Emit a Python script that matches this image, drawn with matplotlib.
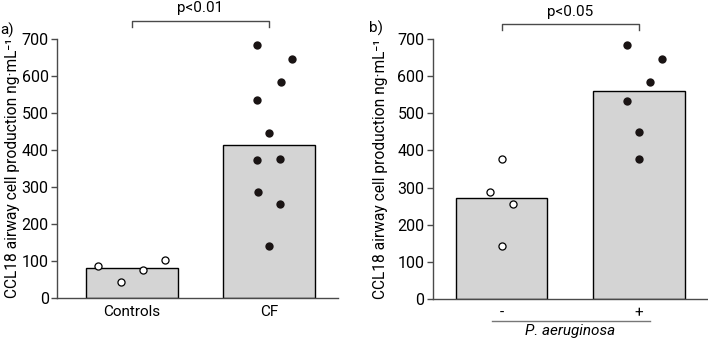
import matplotlib
matplotlib.use("Agg")
import matplotlib.pyplot as plt
import numpy as np

plt.rcParams['font.family'] = ['Roboto', 'DejaVu Sans']

# ---- data ----
cats_a = ["Controls", "CF"]
bars_a = [82, 413]
ctrl_pts = [87, 44, 75, 104]
cf_pts = [684, 645, 585, 534, 447, 372, 375, 286, 254, 140]

cats_b = ["-", "+"]
bars_b = [271, 561]
neg_pts = [376, 289, 255, 144]
pos_pts = [683, 647, 585, 533, 449, 378]

yticks = [0, 100, 200, 300, 400, 500, 600, 700]
ylabel = "CCL18 airway cell production ng\u00b7mL\u207b\u00b9"

# jitter (layout only)
jit_ctrl = [-0.25, -0.08, 0.08, 0.245]
jit_cf = [-0.089, 0.169, 0.086, -0.084, 0, -0.084, 0.084, -0.079, 0.084, 0]
jit_neg = [0, -0.086, 0.081, 0]
jit_pos = [-0.085, 0.165, 0.082, -0.09, 0, 0]

W, H = 708, 339
fig = plt.figure(figsize=(W / 100, H / 100), dpi=100)

spine_col = "#4a4a4a"
bar_col = "#d4d4d4"
dot_col = "#1a1414"


def style(ax, lab_x):
    ax.set_ylim(0, 700)
    ax.set_yticks(yticks)
    for s in ["top", "right"]:
        ax.spines[s].set_visible(False)
    for s in ["left", "bottom"]:
        ax.spines[s].set_color(spine_col)
        ax.spines[s].set_linewidth(1.0)
    ax.tick_params(axis="y", length=4, width=1.0, color=spine_col, labelsize=11.5, pad=2)
    ax.tick_params(axis="x", length=0, labelsize=11, pad=5)
    ax.set_ylabel(ylabel, fontsize=11.2, family=['Roboto', 'DejaVu Sans'])
    ax.yaxis.set_label_coords(lab_x, 0.5)
    ax.set_facecolor("none")


# Panel a
axa = fig.add_axes([57 / W, 41 / H, 281 / W, 259 / H])
xa = np.arange(len(cats_a))
axa.bar(xa, bars_a, width=0.67, color=bar_col, edgecolor="black", linewidth=1.0, zorder=2)
axa.scatter(xa[0] + np.array(jit_ctrl), ctrl_pts, s=26, facecolor="white", edgecolor="black",
            linewidth=0.9, zorder=3, clip_on=False)
axa.scatter(xa[1] + np.array(jit_cf), cf_pts, s=36, color=dot_col, linewidth=0, zorder=3, clip_on=False)
axa.set_xlim(-0.546, 1.505)
axa.set_xticks(xa)
axa.set_xticklabels(cats_a)
style(axa, (20 - 57) / 281)
axa.plot([0, 0, 1, 1], [732, 749, 749, 732], color=spine_col, lw=1.0, clip_on=False)
axa.text(0.5, 784, "p<0.01", ha="center", va="center", fontsize=11)
fig.text(0 / W, 1 - 30 / H, "a)", fontsize=11, va="center", ha="left")

# Panel b
axb = fig.add_axes([432.7 / W, 40 / H, 275.3 / W, 260 / H])
xb = np.arange(len(cats_b))
axb.bar(xb, bars_b, width=0.666, color=bar_col, edgecolor="black", linewidth=1.0, zorder=2)
axb.scatter(xb[0] + np.array(jit_neg), neg_pts, s=26, facecolor="white", edgecolor="black",
            linewidth=0.9, zorder=3, clip_on=False)
axb.scatter(xb[1] + np.array(jit_pos), pos_pts, s=36, color=dot_col, linewidth=0, zorder=3, clip_on=False)
axb.set_xlim(-0.5, 1.5)
axb.set_xticks(xb)
axb.set_xticklabels(cats_b)
style(axb, (388 - 432.7) / 275.3)
axb.plot([0, 0, 1, 1], [724, 741, 741, 724], color=spine_col, lw=1.0, clip_on=False)
axb.text(0.5, 772, "p<0.05", ha="center", va="center", fontsize=11)
axb.plot([-0.07, 1.08], [-59, -59], color="#777777", lw=1.0, clip_on=False)
axb.text(0.5, -86, "P. aeruginosa", style="italic", ha="center", va="center", fontsize=11)
fig.text(369 / W, 1 - 28 / H, "b)", fontsize=11, va="center", ha="left")

fig.savefig("out.png", dpi=100)
